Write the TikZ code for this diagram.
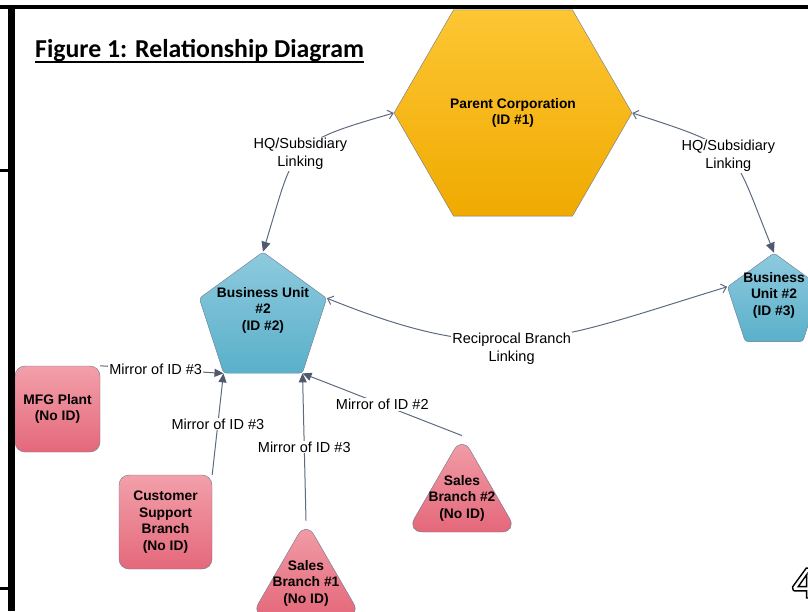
\documentclass[tikz,border=0pt]{standalone}
\usepackage{fontspec}
\setmainfont{Liberation Sans}
\newfontfamily\titlefont{Carlito}
\usepackage{tikz}
\usetikzlibrary{shapes.geometric,arrows.meta,positioning}

\definecolor{linkgray}{RGB}{94,106,130}
\definecolor{tipgray}{RGB}{80,90,110}
\definecolor{edgegray}{RGB}{108,120,146}
\definecolor{goldtop}{RGB}{253,198,52}
\definecolor{goldbot}{RGB}{240,170,0}
\definecolor{bluetop}{RGB}{142,202,222}
\definecolor{bluebot}{RGB}{90,176,202}
\definecolor{redtop}{RGB}{242,160,170}
\definecolor{redbot}{RGB}{228,104,122}

\newcommand{\unitfont}{\bfseries\fontsize{13.8}{16.5}\selectfont}
\newcommand{\linkfont}{\fontsize{14.5}{18}\selectfont}
\newcommand{\outlined}[1]{\special{pdf:literal direct 1 Tr 1.4 w}#1\special{pdf:literal direct 0 Tr}}

\tikzset{
  corpbox/.style={regular polygon, regular polygon sides=6, minimum size=238pt, inner sep=0pt,
                  draw=edgegray, top color=goldtop, bottom color=goldbot, font=\unitfont, align=center},
  unitbox/.style={regular polygon, regular polygon sides=5, inner sep=0pt, rounded corners=3pt,
                  draw=edgegray, top color=bluetop, bottom color=bluebot},
  branchbox/.style={rectangle, rounded corners=10pt, inner sep=0pt, draw=edgegray,
                    top color=redtop, bottom color=redbot, font=\unitfont, align=center},
  branchtri/.style={regular polygon, regular polygon sides=3, minimum size=128pt, inner sep=0pt,
                    rounded corners=16pt, draw=edgegray, top color=redtop, bottom color=redbot},
  unittext/.style={font=\unitfont, align=center, inner sep=0pt},
  linktext/.style={font=\linkfont, align=center, fill=white, inner sep=1pt},
  link/.style={draw=linkgray, line width=1pt},
  hqlink/.style={link, arrows={Straight Barb[length=5pt,width=9pt]-Triangle[length=10pt,width=9pt,color=tipgray]}},
  reclink/.style={link, arrows={Straight Barb[length=5pt,width=9pt]-Straight Barb[length=5pt,width=9pt]}},
  mirrorlink/.style={link, arrows={-Triangle[length=9pt,width=8pt,color=tipgray]}}
}

\begin{document}
\begin{tikzpicture}[x=1pt,y=1pt]
    \useasboundingbox (0,0) rectangle (808,611);
    % Title
    \node[anchor=base west, inner sep=0pt, font=\titlefont\bfseries\fontsize{25.8}{30}\selectfont] (title) at (35,553) {Figure 1: Relationship Diagram};
    \draw[line width=1.8pt] ([yshift=-4pt]title.base west) -- ([yshift=-4pt]title.base east);

    % Corporation and units
    \node[corpbox] (parent) at (513,498) {Parent Corporation\\(ID \#1)};
    \node[unitbox, minimum size=134pt,
          label={[unittext,yshift=9pt]center:{Business Unit\\\#2\\(ID \#2)}}] (unitA) at (263,292) {};
    \node[unitbox, minimum size=98pt,
          label={[unittext,yshift=7pt]center:{Business\\Unit \#2\\(ID \#3)}}] (unitB) at (774,309) {};

    % Branches
    \node[branchbox, minimum width=85pt, minimum height=86pt] (plant) at (57.5,202) {MFG Plant\\(No ID)};
    \node[branchbox, minimum width=93pt, minimum height=94pt] (support) at (165.5,89) {Customer\\Support\\Branch\\(No ID)};
    \node[branchtri, label={[unittext,yshift=2pt]center:{Sales\\Branch \#1\\(No ID)}}] (salesA) at (306,26) {};
    \node[branchtri, label={[unittext,yshift=2pt]center:{Sales\\Branch \#2\\(No ID)}}] (salesB) at (462,111) {};

    % Links
    \draw[hqlink] (parent.west) to[out=196,in=73,looseness=1.5]
          node[linktext, pos=0.5] {HQ/Subsidiary\\Linking} (unitA.north);
    \draw[hqlink] (parent.east) to[out=-18,in=112,looseness=1.5]
          node[linktext, pos=0.5] {HQ/Subsidiary\\Linking} (unitB.north);
    \draw[reclink] (unitA.corner 5) to[out=-22,in=197,looseness=1.2]
          node[linktext, pos=0.46, yshift=-8pt] {Reciprocal Branch\\Linking} (unitB.corner 2);
    \draw[mirrorlink] (plant.north east) -- node[linktext, pos=0.45] {Mirror of ID \#3} (unitA.corner 3);
    \draw[mirrorlink] (support.north east) -- node[linktext] {Mirror of ID \#3} (unitA.corner 3);
    \draw[mirrorlink] (salesA.north) -- node[linktext] {Mirror of ID \#3} (unitA.corner 4);
    \draw[mirrorlink] (salesB.north) -- node[linktext] {Mirror of ID \#2} (unitA.corner 4);

    % Page frame
    \draw[line width=4pt] (0,604) -- (808,604);
    \draw[line width=7pt] (11,606) -- (11,0);
    \draw[line width=3pt] (0,440) -- (14,440)
                          (0,23) -- (14,23);
    % Page number
    \node[anchor=base west, inner sep=0pt, font=\titlefont\bfseries\fontsize{46}{50}\selectfont] (pagenum) at (792,13) {\outlined{4}};
\end{tikzpicture}
\end{document}
